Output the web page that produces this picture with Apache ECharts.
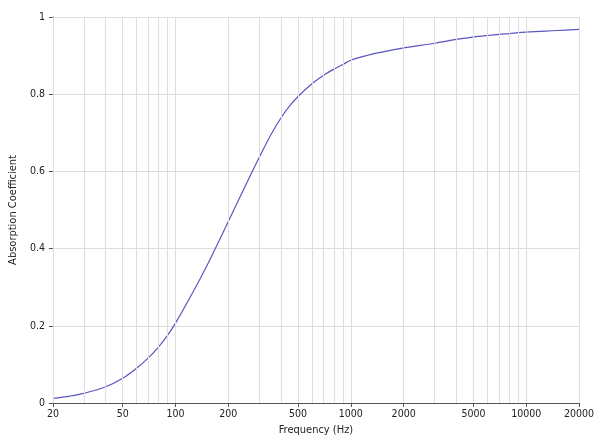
<!DOCTYPE html>
<html>
<head>
<meta charset="utf-8">
<script src="https://cdn.jsdelivr.net/npm/echarts@6/dist/echarts.min.js"></script>
<style>html,body{margin:0;padding:0;background:#fff;}#c{width:600px;height:441px;}</style>
</head>
<body>
<div id="c"></div>
<script>
const freqs = [20,25,30,40,50,60,70,80,90,100,125,150,175,200,250,300,350,400,450,500,600,700,800,900,1000,1250,1500,2000,3000,4000,5000,6000,7000,8000,10000,15000,20000];
const alpha = [0.012,0.018,0.025,0.042,0.064,0.09,0.117,0.145,0.175,0.207,0.285,0.353,0.415,0.47,0.562,0.636,0.695,0.739,0.771,0.794,0.827,0.849,0.865,0.877,0.888,0.901,0.909,0.92,0.932,0.942,0.948,0.952,0.955,0.957,0.961,0.965,0.968];
const xLabels = [20,50,100,200,500,1000,2000,5000,10000,20000];
const xGrid = [20,30,40,50,60,70,80,90,100,200,300,400,500,600,700,800,900,1000,2000,3000,4000,5000,6000,7000,8000,9000,10000,20000];

const chart = echarts.init(document.getElementById('c'), null, {renderer:'canvas'});
const font = '"DejaVu Sans Condensed", "DejaVu Sans", sans-serif';
chart.setOption({
  animation:false,
  backgroundColor:'#fff',
  grid:{left:48,right:21,top:17,bottom:35,containLabel:false},
  xAxis:{
    type:'log', logBase:10, min:20, max:20000,
    name:'Frequency (Hz)', nameLocation:'middle', nameGap:22,
    nameTextStyle:{fontFamily:font,fontSize:11,color:'#222'},
    axisLine:{show:true,lineStyle:{color:'#555',width:1}},
    axisTick:{show:true,length:4,lineStyle:{color:'#555'},customValues:xLabels},
    axisLabel:{fontFamily:font,fontSize:10.5,color:'#222',margin:6,customValues:xLabels,formatter:v=>String(Math.round(v))},
    splitLine:{show:false},
    minorSplitLine:{show:false}
  },
  yAxis:{
    type:'value', min:0, max:1, interval:0.2,
    name:'Absorption Coefficient', nameLocation:'middle', nameGap:33, nameRotate:90,
    nameTextStyle:{fontFamily:font,fontSize:11,color:'#222'},
    axisLine:{show:true,lineStyle:{color:'#555',width:1}},
    axisTick:{show:true,length:4,lineStyle:{color:'#555'}},
    axisLabel:{fontFamily:font,fontSize:10.5,color:'#222',margin:8,formatter:v=>String(+v.toFixed(1))},
    splitLine:{show:true,lineStyle:{color:'#dddddd',width:1}}
  },
  series:[{
    type:'line', smooth:0.35, symbol:'none',
    data:freqs.map((f,i)=>[f,alpha[i]]),
    lineStyle:{color:'#5a56c2',width:1.2},
    markLine:{
      silent:true, symbol:'none', label:{show:false},
      lineStyle:{color:'#dddddd',width:1,type:'solid'},
      data:xGrid.map(v=>({xAxis:v}))
    },
    z:3
  }]
});
</script>
</body>
</html>
